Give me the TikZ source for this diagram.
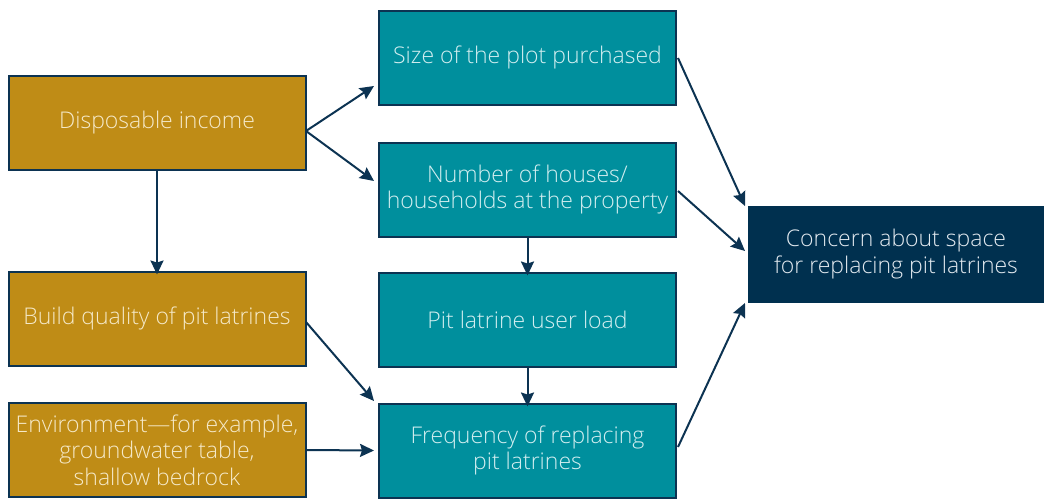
\documentclass[tikz,border=0pt]{standalone}
\usepackage{fontspec}
\IfFontExistsTF{Open Sans Light}{\setmainfont{Open Sans Light}}{\setmainfont{Open Sans}}
\usetikzlibrary{arrows.meta}
\definecolor{gold}{HTML}{BF8C16}
\definecolor{teal2}{HTML}{008F9D}
\definecolor{navy}{HTML}{00304F}
\definecolor{edge}{HTML}{0C3352}
\definecolor{goldtxt}{HTML}{F5E9C8}
\definecolor{tealtxt}{HTML}{D2EEF0}
\definecolor{navytxt}{HTML}{E2E9EF}
\begin{document}
\begin{tikzpicture}[x=1pt,y=-1pt,
  box/.style={draw=edge, line width=2pt, minimum width=297pt, minimum height=94pt, align=center, inner sep=0pt, font=\fontsize{23}{26.5}\selectfont},
  gbox/.style={box, fill=gold, text=goldtxt},
  tbox/.style={box, fill=teal2, text=tealtxt},
  nbox/.style={box, draw=navy, fill=navy, text=navytxt, minimum width=294pt, minimum height=95pt},
  arr/.style={draw=edge, line width=2pt, -{Stealth[length=14pt,width=13pt,inset=2pt]}}]
\useasboundingbox (0,0) rectangle (1044,498);
\node[gbox] (di) at (157,123) {Disposable income};
\node[gbox] (bq) at (157,318.5) {Build quality of pit latrines};
\node[gbox] (env) at (157,450) {Environment---for example,\\groundwater table,\\shallow bedrock};
\node[tbox] (sp) at (527.5,57.5) {Size of the plot purchased};
\node[tbox] (nh) at (527.5,189.5) {Number of houses/\\households at the property};
\node[tbox] (ul) at (527.5,319.5) {Pit latrine user load};
\node[tbox] (fr) at (527.5,450.5) {Frequency of replacing\\pit latrines};
\node[nbox] (cs) at (896,254) {Concern about space\\for replacing pit latrines};
\coordinate (di-r) at (306,131);
\coordinate (sp-in) at (374,86);
\coordinate (nh-in) at (374,181);
\draw[arr] (di-r) -- (sp-in);
\draw[arr] (di-r) -- (nh-in);
\draw[arr] (di.south) -- ([yshift=-4pt]bq.north);
\draw[arr] (nh.south) -- ([yshift=-4pt]ul.north);
\draw[arr] (ul.south) -- ([yshift=-4pt]fr.north);
\coordinate (bq-r) at (306,322);
\coordinate (fr-in1) at (374,401);
\draw[arr] (bq-r) -- (fr-in1);
\draw[arr] (env.east) -- ([xshift=-4pt]fr.west);
\coordinate (sp-r) at (678,58);
\coordinate (nh-r) at (678,191);
\coordinate (fr-r) at (678,447);
\coordinate (cs-in1) at (745,206);
\coordinate (cs-in2) at (745,251);
\coordinate (cs-in3) at (745,303);
\draw[arr] (sp-r) -- (cs-in1);
\draw[arr] (nh-r) -- (cs-in2);
\draw[arr] (fr-r) -- (cs-in3);
\end{tikzpicture}
\end{document}
